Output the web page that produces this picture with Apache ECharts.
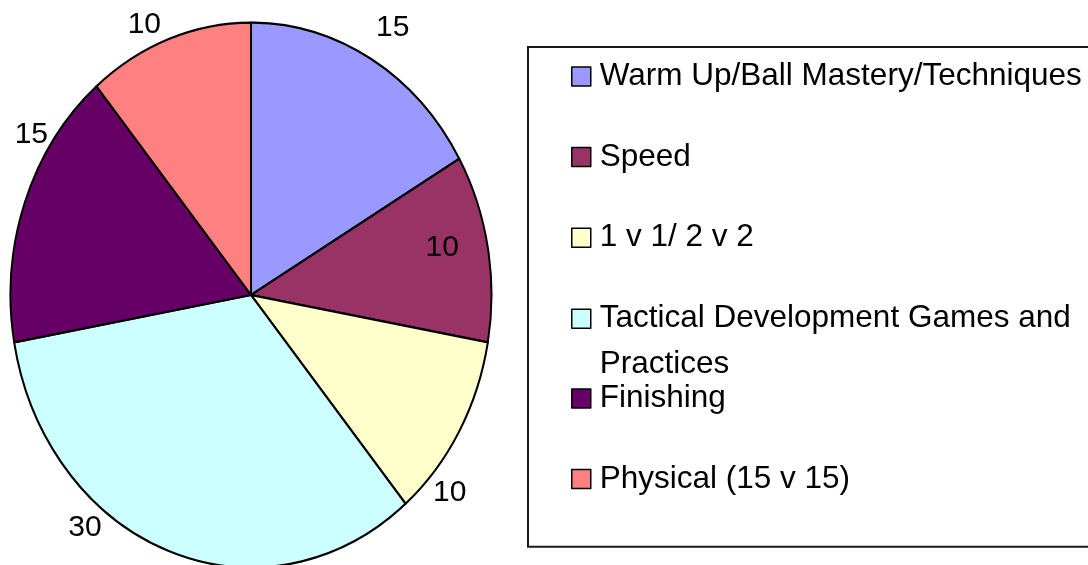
<!DOCTYPE html>
<html>
<head>
<meta charset="utf-8">
<script src="https://cdn.jsdelivr.net/npm/echarts/dist/echarts.min.js"></script>
<style>
  html, body { margin: 0; padding: 0; background: #ffffff; overflow: hidden; width: 1088px; height: 565px; }
  #pie { position: absolute; left: 0; top: 0; width: 1088px; height: 565px; transform-origin: 0 295px; transform: scaleY(1.133); }
  #txt { position: absolute; left: 0; top: 0; width: 1088px; height: 565px; }
</style>
</head>
<body>
<div id="pie"></div>
<div id="txt"></div>
<script>
// ---- data ----
const categories = [
  'Warm Up/Ball Mastery/Techniques',
  'Speed',
  '1 v 1/ 2 v 2',
  'Tactical Development Games and Practices',
  'Finishing',
  'Physical (15 v 15)'
];
const values = [15, 10, 10, 30, 15, 10];

// ---- styles ----
const colors = ['#9999FF', '#993366', '#FFFFCC', '#CCFFFF', '#660066', '#FF8080'];
const labelLen  = [67.8, 30.2, 155.5, 7.45, 227.3, 46.8];
const labelLen2 = [-29.2, -92.1, -161, 64.5, -236.6, -8.3];
const FONT = '"Liberation Sans", Arial, Helvetica, sans-serif';
const CENTER = [251, 295];
const RADIUS = 240.5;
const LEGEND_FONT = 31.5;
const LEGEND_LINE = 46;

// wrap long legend entries onto a second line (word boundary), like the reference
function wrapLegend(name) {
  const cut = name.lastIndexOf(' and ');
  if (name.length > 34 && cut > 0) {
    return '{a|' + name.slice(0, cut + 4) + '}\n{b|' + name.slice(cut + 5) + '}';
  }
  return '{a|' + name + '}';
}

function legendBase(names) {
  return {
    orient: 'vertical',
    left: 528,
    itemGap: 34.6,
    itemWidth: 19,
    itemHeight: 19,
    selectedMode: false,
    formatter: wrapLegend,
    textStyle: {
      fontSize: LEGEND_FONT, fontFamily: FONT, color: '#000000', lineHeight: LEGEND_LINE, padding: [0, 0, 0, 4],
      rich: {
        a: { fontSize: LEGEND_FONT, fontFamily: FONT, color: '#000000', lineHeight: LEGEND_LINE },
        b: { fontSize: LEGEND_FONT, fontFamily: FONT, color: '#000000', lineHeight: 1, height: LEGEND_LINE, verticalAlign: 'top' }
      }
    },
    itemStyle: { borderColor: '#000000', borderWidth: 1.5, opacity: 1 },
    data: names.map(c => ({ name: c, icon: 'rect', itemStyle: { color: colors[categories.indexOf(c)], opacity: 1 } }))
  };
}

// Pie body (stretched vertically into an ellipse like the reference)
const pieChart = echarts.init(document.getElementById('pie'), null, { renderer: 'svg' });
pieChart.setOption({
  animation: false,
  backgroundColor: 'transparent',
  color: colors,
  series: [{
    type: 'pie',
    center: CENTER,
    radius: RADIUS,
    startAngle: 90,
    clockwise: true,
    silent: true,
    label: { show: false },
    labelLine: { show: false },
    itemStyle: { borderColor: '#000000', borderWidth: 2 },
    data: categories.map((c, i) => ({ name: c, value: values[i] }))
  }]
});

// Text layer: value labels + legend (not stretched)
const legendTop = Object.assign(legendBase(categories.slice(0, 4)), {
  top: 47,
  padding: [6.5, 30, 159.5, 43],
  borderColor: '#1a1a1a',
  borderWidth: 2
});
const legendBottom = Object.assign(legendBase(categories.slice(4)), {
  top: 375.5,
  padding: [0, 30, 0, 43],
  borderWidth: 0
});

const txtChart = echarts.init(document.getElementById('txt'), null, { renderer: 'canvas' });
txtChart.setOption({
  animation: false,
  backgroundColor: 'transparent',
  legend: [legendTop, legendBottom],
  series: [{
    type: 'pie',
    center: CENTER,
    radius: RADIUS,
    startAngle: 90,
    clockwise: true,
    silent: true,
    avoidLabelOverlap: false,
    itemStyle: { color: 'rgba(0,0,0,0)', borderWidth: 0 },
    label: {
      show: true,
      position: 'outside',
      formatter: '{c}',
      fontSize: 30,
      fontFamily: FONT,
      color: '#000000',
      distanceToLabelLine: 0
    },
    labelLine: { show: false },
    data: categories.map((c, i) => ({
      name: c,
      value: values[i],
      labelLine: { show: false, length: labelLen[i], length2: labelLen2[i] }
    }))
  }]
});
</script>
</body>
</html>
